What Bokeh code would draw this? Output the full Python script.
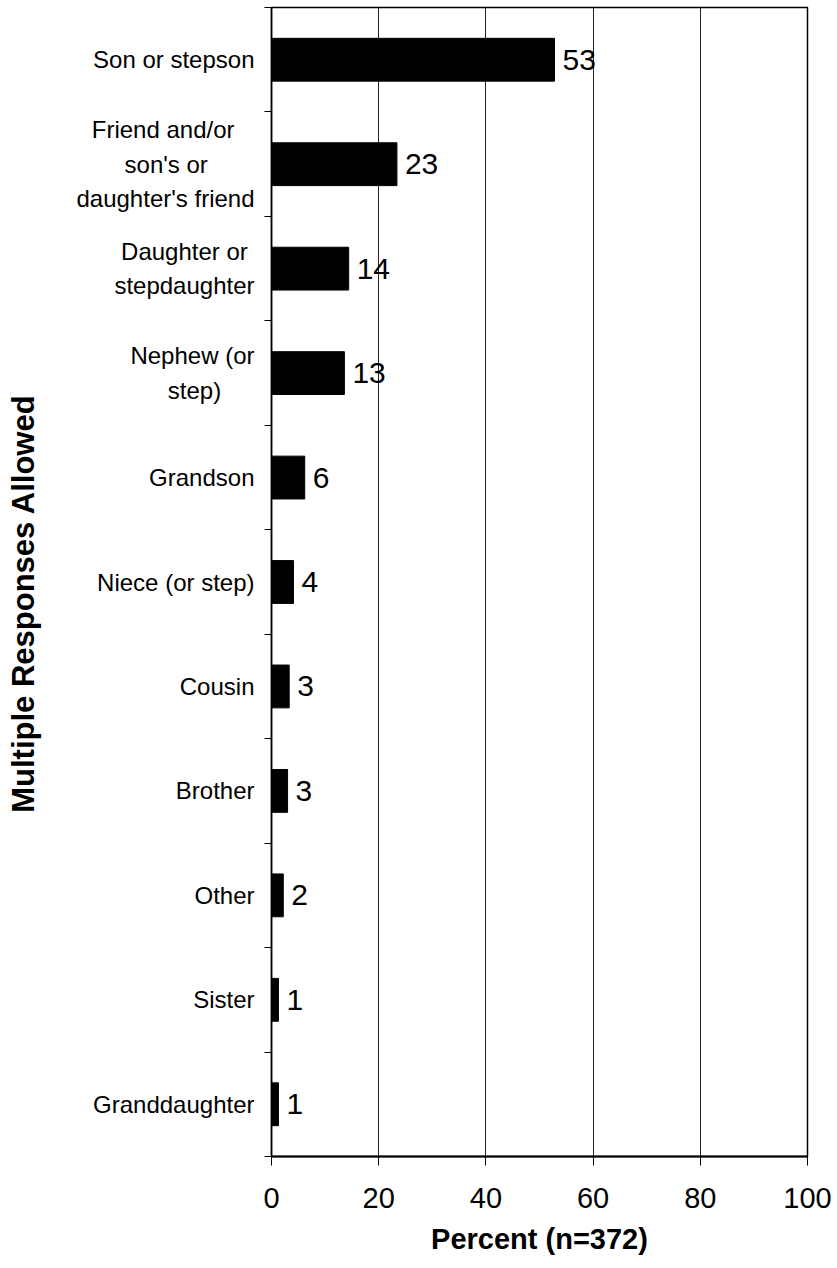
from bokeh.plotting import figure
from bokeh.models import Range1d, FixedTicker, ColumnDataSource
from bokeh.embed import file_html
from bokeh.resources import INLINE

categories = ["Son or stepson", "Friend and/or\nson's or\ndaughter's friend",
              "Daughter or\nstepdaughter", "Nephew (or\nstep)", "Grandson",
              "Niece (or step)", "Cousin", "Brother", "Other", "Sister",
              "Granddaughter"]
values = [52.8, 23.4, 14.4, 13.6, 6.2, 4.1, 3.3, 3.0, 2.2, 1.3, 1.3]
value_labels = ["53", "23", "14", "13", "6", "4", "3", "3", "2", "1", "1"]
x_ticks = [0, 20, 40, 60, 80, 100]
x_title = "Percent (n=372)"
y_title = "Multiple Responses Allowed"

FONT = "Liberation Sans"

# approximate advance widths (per 1000 em) of Liberation Sans, used only to
# centre the lines of multi-line tick labels (the axis right-aligns each line)
_W = {" ": 278, "'": 191, "(": 333, ")": 333, "/": 278, "D": 722, "F": 611,
      "N": 722, "a": 556, "c": 500, "d": 556, "e": 556, "f": 278, "g": 556,
      "h": 556, "i": 222, "l": 222, "n": 556, "o": 556, "p": 556, "r": 333,
      "s": 500, "t": 278, "u": 556, "w": 722}


def centred(label):
    lines = label.split("\n")
    widths = [sum(_W.get(c, 556) for c in ln) for ln in lines]
    m = max(widths)
    return "\n".join(ln + "\u00a0" * round((m - w) / 2 / 278)
                     for ln, w in zip(lines, widths))


n = len(categories)
centers = [n - i - 0.5 for i in range(n)]
bounds = list(range(n + 1))

p = figure(width=837, height=1268, output_backend="svg", toolbar_location=None,
           x_range=Range1d(0, 100), y_range=Range1d(0, n),
           min_border_left=271, min_border_right=30, min_border_top=7,
           min_border_bottom=112)

src = ColumnDataSource(dict(y=centers, right=values, lab=value_labels))
p.hbar(y="y", right="right", left=0, height=0.41, source=src,
       fill_color="black", line_color="black")
p.text(x="right", y="y", text="lab", source=src, x_offset=8,
       text_baseline="middle", text_align="left", text_font_size="30px",
       text_font={"value": FONT}, text_color="black")

# x axis
p.xaxis.ticker = FixedTicker(ticks=x_ticks)
p.xaxis.axis_label = x_title
p.xaxis.axis_label_text_font = FONT
p.xaxis.axis_label_text_font_style = "bold"
p.xaxis.axis_label_text_font_size = "29px"
p.xaxis.axis_label_text_color = "black"
p.xaxis.axis_label_standoff = 12
p.xaxis.major_label_text_font = FONT
p.xaxis.major_label_text_font_size = "29px"
p.xaxis.major_label_text_color = "black"
p.xaxis.major_label_standoff = 22
p.xaxis.major_tick_out = 9
p.xaxis.major_tick_in = 0
p.xaxis.minor_tick_line_color = None
p.xaxis.axis_line_width = 2
p.xaxis.axis_line_color = "black"
p.xaxis.major_tick_line_color = "black"

# y axis
p.yaxis.ticker = FixedTicker(ticks=centers, minor_ticks=bounds)
p.yaxis.major_label_overrides = {c: centred(lab) for c, lab in zip(centers, categories)}
p.yaxis.major_label_text_font = FONT
p.yaxis.major_label_text_font_size = "24px"
p.yaxis.major_label_text_color = "black"
p.yaxis.major_label_text_line_height = 1.28
p.yaxis.major_label_standoff = 10
p.yaxis.major_tick_line_color = None
p.yaxis.major_tick_out = 0
p.yaxis.major_tick_in = 0
p.yaxis.minor_tick_out = 7
p.yaxis.minor_tick_in = 0
p.yaxis.minor_tick_line_color = "black"
p.yaxis.axis_line_width = 1.5
p.yaxis.axis_line_color = "black"
# trailing no-break spaces nudge the rotated title slightly downwards
p.yaxis.axis_label = y_title + "\u00a0" * 5
p.yaxis.axis_label_text_font = FONT
p.yaxis.axis_label_text_font_style = "bold"
p.yaxis.axis_label_text_font_size = "31px"
p.yaxis.axis_label_text_color = "black"
p.yaxis.axis_label_standoff = 32

# grid
p.xgrid.ticker = FixedTicker(ticks=[20, 40, 60, 80])
p.xgrid.grid_line_color = "#222222"
p.xgrid.grid_line_width = 1
p.ygrid.grid_line_color = None

p.outline_line_color = "black"
p.outline_line_width = 1.5
p.background_fill_color = "white"
p.border_fill_color = "white"

open("out.html", "w").write(file_html(p, INLINE))
